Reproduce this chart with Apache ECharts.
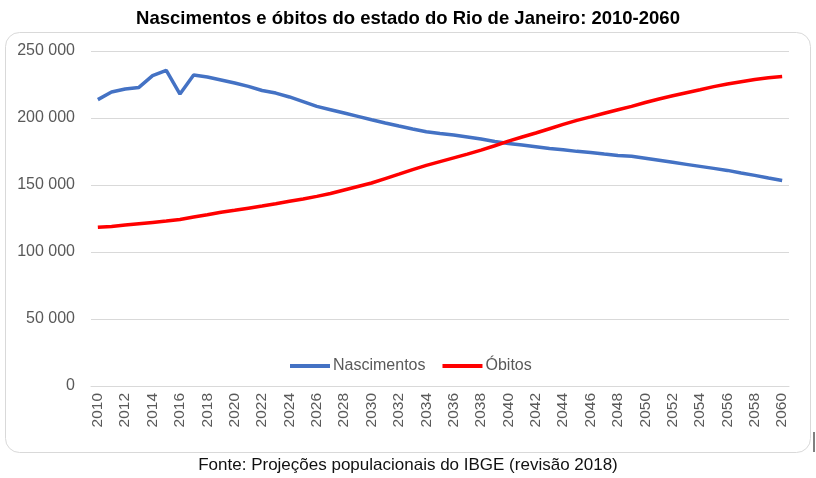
<!DOCTYPE html>
<html><head><meta charset="utf-8">
<script src="https://cdn.jsdelivr.net/npm/echarts@6/dist/echarts.min.js"></script>
<style>html,body{margin:0;padding:0;background:#fff}#c{width:816px;height:478px}</style>
</head><body><div id="c"></div>
<script>
const years = [];
for (let y = 2010; y <= 2060; y++) years.push(String(y));
const nascimentos = [213700,219400,221600,222800,231600,235500,217900,232100,230600,228400,
226100,223600,220500,218600,215700,212200,208700,206200,203700,201200,
198700,196300,194000,191800,189800,188500,187300,185800,184300,182500,
181000,179800,178600,177300,176300,175100,174300,173100,172000,171400,
169900,168400,166900,165400,163900,162400,160900,159000,157200,155200,153400];
const obitos = [118400,119100,120100,121100,122100,123100,124300,126100,127800,129600,
131100,132700,134300,136000,137800,139600,141500,143700,146300,148900,
151500,154800,158100,161500,164600,167400,170200,173000,176000,179300,
182700,185800,188800,192000,195200,198200,200800,203500,206200,208700,
211600,214200,216600,218900,221100,223400,225400,227100,228800,230100,231000];
const yTicks = [0, 50000, 100000, 150000, 200000, 250000];

const chart = echarts.init(document.getElementById('c'), null, {renderer:'canvas'});
const fmt = v => String(v).replace(/\B(?=(\d{3})+(?!\d))/g, ' ');
chart.setOption({
  animation:false,
  backgroundColor:'#fff',
  textStyle:{fontFamily:'Liberation Sans'},
  title:{
    text:'Nascimentos e óbitos do estado do Rio de Janeiro: 2010-2060',
    left:'center', top:4,
    textStyle:{fontFamily:'Liberation Sans', fontWeight:'bold', fontSize:18.5, color:'#000'}
  },
  graphic:[
    {type:'rect', shape:{x:5.5, y:32.5, width:805, height:420, r:14}, style:{fill:'none', stroke:'#d9d9d9', lineWidth:1}, z:-1},
    {type:'text', left:'center', top:457, style:{text:'Fonte: Projeções populacionais do IBGE (revisão 2018)', fontFamily:'Liberation Sans', fontSize:17, fill:'#111'}},
    {type:'line', shape:{x1:814, y1:432, x2:814, y2:452}, style:{stroke:'#000', lineWidth:1}}
  ],
  legend:{
    left:290, top:358, padding:0, icon:'rect', itemWidth:40, itemHeight:4, itemGap:17,
    textStyle:{fontFamily:'Liberation Sans', fontSize:16, color:'#595959', padding:[0,0,0,-2]},
    data:['Nascimentos','Óbitos']
  },
  grid:{left:91, right:27, top:51, bottom:92, containLabel:false},
  xAxis:{
    type:'category', data:years, boundaryGap:true,
    axisLine:{lineStyle:{color:'#d9d9d9'}},
    axisTick:{show:false},
    axisLabel:{rotate:90, interval:1, color:'#595959', fontSize:15.5, fontFamily:'Liberation Sans', margin:7}
  },
  yAxis:{
    type:'value', min:yTicks[0], max:yTicks[yTicks.length-1], interval:50000,
    axisLine:{show:false}, axisTick:{show:false},
    splitLine:{lineStyle:{color:'#d9d9d9'}},
    axisLabel:{formatter:fmt, color:'#595959', fontSize:16, fontFamily:'Liberation Sans', margin:16}
  },
  series:[
    {name:'Nascimentos', type:'line', data:nascimentos, symbol:'none', lineStyle:{width:3.5, color:'#4472C4'}, itemStyle:{color:'#4472C4'}},
    {name:'Óbitos', type:'line', data:obitos, symbol:'none', lineStyle:{width:3.5, color:'#FF0000'}, itemStyle:{color:'#FF0000'}}
  ]
});
</script></body></html>
